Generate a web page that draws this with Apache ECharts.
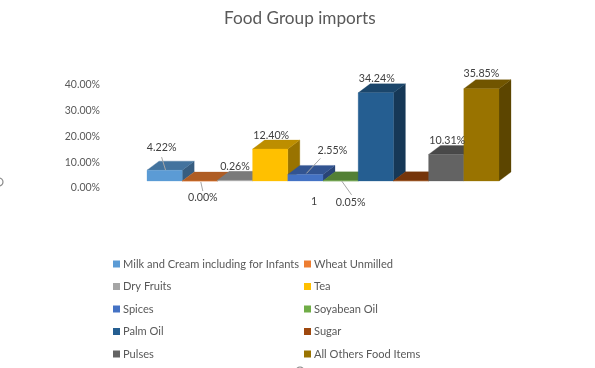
<!DOCTYPE html>
<html>
<head>
<meta charset="utf-8">
<style>html,body{margin:0;padding:0;background:#fff}#c{width:595px;height:368px}</style>
<script src="https://cdn.jsdelivr.net/npm/echarts@6/dist/echarts.min.js"></script>
</head>
<body>
<div id="c"></div>
<script>
const categories = ["Milk and Cream including for Infants","Wheat Unmilled","Dry Fruits","Tea","Spices","Soyabean Oil","Palm Oil","Sugar","Pulses","All Others Food Items"];
const values = [4.22,0,0.26,12.40,2.55,0.05,34.24,0.12,10.31,35.85];
const labels = ["4.22%","0.00%","0.26%","12.40%","2.55%","0.05%","34.24%","1","10.31%","35.85%"];
const colors = ["#5b9bd5","#ed7d31","#a5a5a5","#ffc000","#4472c4","#70ad47","#255e91","#9e480e","#636363","#997300"];
const yTicks = [0,10,20,30,40];
// label centre, relative to the centre of the bar's front top edge
const labelOffsets = [[-3,-23],[3,17],[0,-14],[1,-14],[27,-24],[10,22],[1,-14],[-97,21],[1,-14],[0,-15]];
// leader line ends, same reference
const leaders = [[-3,-13,1,0],[1,1,3,10],null,null,[15,-16,1,-1],[1,0,11,14],null,null,null,null];

const DX = 12, DY = 9;
function shade(hex, f){
  const n = parseInt(hex.slice(1),16);
  const c = [n>>16&255,n>>8&255,n&255].map(v=>Math.round(v*f));
  return `rgb(${c[0]},${c[1]},${c[2]})`;
}
function renderBar(i){
  return function(params, api){
    const idx = api.value(0), val = api.value(1);
    const top = api.coord([idx,val]), base = api.coord([idx,0]);
    const w = api.size([1,0])[0];
    const cx = top[0], xl = cx-w/2, xr = cx+w/2, yt = top[1], yb = base[1];
    const poly = (pts,fill,z2)=>({type:'polygon',z2,shape:{points:pts},style:{fill,stroke:fill,lineWidth:0.3}});
    const kids = [
      poly([[xr,yt],[xr+DX,yt-DY],[xr+DX,yb-DY],[xr,yb]],shade(colors[i],0.6),i*3+1),
      poly([[xl,yt],[xl+DX,yt-DY],[xr+DX,yt-DY],[xr,yt]],shade(colors[i],0.74),i*3+2),
      poly([[xl,yt],[xr,yt],[xr,yb],[xl,yb]],colors[i],i*3+3)
    ];
    const lead = leaders[i];
    if(lead){
      kids.push({type:'line',z2:90,shape:{x1:cx+lead[0],y1:yt+lead[1],x2:cx+lead[2],y2:yt+lead[3]},style:{stroke:'#a6a6a6',lineWidth:1}});
    }
    const off = labelOffsets[i];
    kids.push({type:'text',z2:100,style:{x:cx+off[0],y:yt+off[1],text:labels[i],fill:'#404040',font:'10.7px Lato',align:'center',verticalAlign:'middle'}});
    return {type:'group',children:kids};
  };
}
const legendText = {color:'#595959',fontFamily:'Lato',fontSize:11.1,lineHeight:14,padding:[0,0,0,-2]};
const legendBase = {orient:'vertical',icon:'rect',itemWidth:7,itemHeight:7,itemGap:8.5,padding:0,selectedMode:false,textStyle:legendText,top:257};
const chart = echarts.init(document.getElementById('c'),null,{renderer:'canvas'});
chart.setOption({
  animation:false,
  backgroundColor:'#ffffff',
  title:{text:'Food Group imports',left:219,top:5,textStyle:{color:'#595959',fontFamily:'Lato',fontSize:17.2,fontWeight:'normal'}},
  grid:{left:147,top:78,width:352,height:103},
  xAxis:{type:'category',data:categories,axisLine:{show:false},axisTick:{show:false},axisLabel:{show:false},splitLine:{show:false}},
  yAxis:{type:'value',min:yTicks[0],max:yTicks[yTicks.length-1],interval:10,
    axisLine:{show:false},axisTick:{show:false},splitLine:{show:false},
    axisLabel:{margin:47,color:'#595959',fontFamily:'Lato',fontSize:10.5,verticalAlign:'top',lineHeight:14,formatter:v=>v.toFixed(2)+'%'}},
  legend:[
    Object.assign({},legendBase,{left:113,data:categories.filter((c,i)=>i%2===0)}),
    Object.assign({},legendBase,{left:304,data:categories.filter((c,i)=>i%2===1)})
  ],
  graphic:[
    {type:'circle',shape:{cx:-1,cy:182,r:4},style:{fill:'#fff',stroke:'#8c8c8c',lineWidth:1.2}},
    {type:'circle',shape:{cx:300,cy:371,r:4},style:{fill:'#fff',stroke:'#8c8c8c',lineWidth:1.2}}
  ],
  series:categories.map((name,i)=>({
    type:'custom',name,
    itemStyle:{color:colors[i]},
    encode:{x:0,y:1},
    clip:false,
    renderItem:renderBar(i),
    data:[[i,values[i]]]
  }))
});
</script>
</body>
</html>
